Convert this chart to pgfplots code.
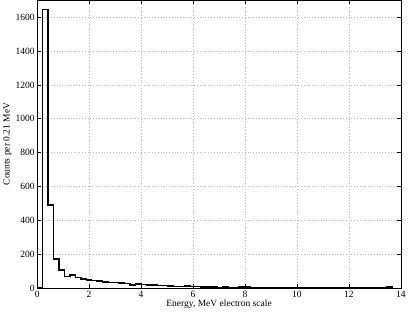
\documentclass[border=0pt]{standalone}
\usepackage{fontspec}
\setmainfont{Liberation Serif}
\usepackage{pgfplots}
\pgfplotsset{compat=1.18}
\begin{document}
\begin{tikzpicture}
\begin{axis}[
  scale only axis,
  width=363pt, height=287pt,
  xmin=0, xmax=14, ymin=0, ymax=1700,
  xtick={0,2,...,14},
  ytick={0,200,...,1600},
  grid=major,
  major grid style={gray!55, line width=0.5pt, dash pattern=on 0.6pt off 2.2pt},
  tick style={black, line width=0.5pt},
  major tick length=4pt,
  axis line style={line width=0.6pt},
  tick label style={font=\fontsize{9.5}{11}\selectfont},
  label style={font=\fontsize{9.5}{11}\selectfont},
  /pgf/number format/assume math mode=true,
  scaled ticks=false,
  /pgf/number format/1000 sep={},
  xlabel={Energy, MeV electron scale},
  ylabel={Counts per 0.21 MeV},
  xlabel style={yshift=5pt},
  ylabel style={yshift=-3pt},
  yticklabel style={xshift=1pt},
]
\addplot[const plot mark left, black, line width=1.5pt] coordinates {
(0,0) (0.21,1645) (0.42,490) (0.63,170) (0.84,105) (1.05,68) (1.26,76) (1.47,62) (1.68,52) (1.89,48)
(2.10,44) (2.31,40) (2.52,36) (2.73,33) (2.94,33) (3.15,30) (3.36,26) (3.57,16) (3.78,24) (3.99,19)
(4.20,18) (4.41,17) (4.62,15) (4.83,14) (5.04,12) (5.25,8) (5.46,9) (5.67,10) (5.88,8) (6.09,7)
(6.30,5) (6.51,4) (6.72,5) (6.93,3) (7.14,4) (7.35,3) (7.56,3) (7.77,5) (7.98,6) (8.19,3)
(8.40,2) (8.61,3) (8.82,2) (9.03,2) (9.24,1) (9.45,2) (9.66,1) (9.87,1) (10.08,0) (10.29,1)
(10.50,1) (10.71,0) (10.92,1) (11.13,0) (11.34,1) (11.55,0) (11.76,0) (11.97,1) (12.18,0) (12.39,0)
(12.60,1) (12.81,0) (13.02,0) (13.23,0) (13.44,4) (13.65,0)
};
\end{axis}
\end{tikzpicture}
\end{document}
